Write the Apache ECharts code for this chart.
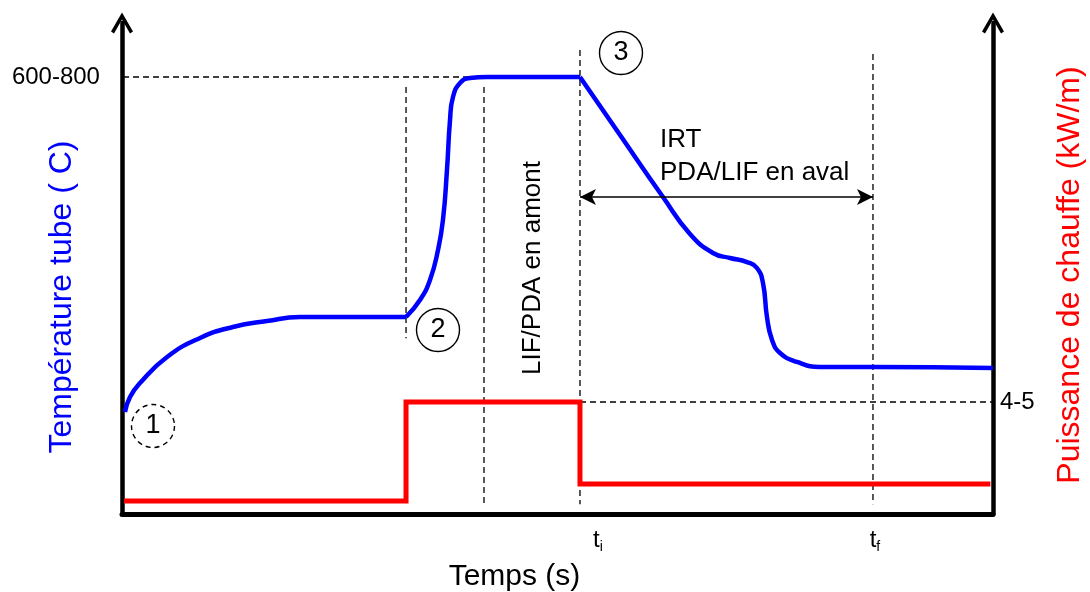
<!DOCTYPE html>
<html>
<head>
<meta charset="utf-8">
<script src="https://cdn.jsdelivr.net/npm/echarts@6/dist/echarts.min.js"></script>
<style>
html,body{margin:0;padding:0;background:#fff;}
#chart{width:1090px;height:592px;}
</style>
</head>
<body>
<div id="chart"></div>
<script>
// ---- data (time and values in relative units, 0..100) ----
const tempPhase1 = [[0.34,20.77],[0.92,23.83],[2.07,26.68],[5.17,31.98],[8.96,35.85],[12.74,38.09],[16.65,39.31],[20.44,40.12],[26.18,40.12],[32.61,40.12]];
const tempPhase2 = [[32.61,40.12],[34.21,43.58],[35.36,47.66],[36.28,53.77],[36.85,59.88],[37.31,70.06],[37.66,80.24],[38.00,84.93],[38.81,87.78],[39.95,88.80],[41.91,89.0],[52.58,89.0]];
const tempPhase3 = [[52.58,89.0],[57.18,77.19],[62.11,64.56],[65.21,57.03],[67.85,53.16],[69.80,52.14],[71.76,51.32],[72.90,50.10],[73.59,47.05],[74.05,40.12],[74.63,35.44],[75.55,32.79],[77.50,30.96],[80.14,29.94],[83.24,29.94],[86.22,29.94],[100,29.74]];
const powerSteps = [[0.23,2.65],[32.61,2.65],[32.61,22.81],[52.58,22.81],[52.58,6.11],[99.7,6.11]];

const guideSegments = [
  [[-1.03,89.0],[40.0,89.0]],
  [[32.61,86.97],[32.61,35.8]],
  [[41.56,86.97],[41.56,2.0]],
  [[52.58,94.5],[52.58,2.0]],
  [[86.22,93.7],[86.22,2.0]],
  [[52.58,22.81],[100,22.81]]
];
const tickLabels = [
  {text:'600-800', at:[-2.53,89.0], align:'right'},
  {text:'4-5', at:[100.8,22.81], align:'left'}
];
const timeMarks = [
  {name:'i', at:[54.65,-5.3]},
  {name:'f', at:[86.45,-5.3]}
];
const stepCircles = [
  {text:'1', at:[3.56,17.92], dashed:true},
  {text:'2', at:[36.28,37.47], dashed:false},
  {text:'3', at:[57.29,93.89], dashed:false}
];
const notes = [
  {text:'LIF/PDA en amont', at:[47.19,50.10], rotate:90, align:'center'},
  {text:'IRT', at:[61.77,76.17], rotate:0, align:'left'},
  {text:'PDA/LIF en aval', at:[61.77,69.45], rotate:0, align:'left'}
];
const measureSpan = [[52.58,64.56],[86.22,64.56]];

const FONT = 'Liberation Sans, Arial, sans-serif';
const chevron = 'path://M11,0 L22,19 L19,21 L11,7 L3,21 L0,19 Z';

const series = [];
guideSegments.forEach(seg => {
  series.push({type:'line', data:seg, clip:false, symbol:'none', silent:true,
    lineStyle:{color:'#000', width:1.3, type:[6,4]}, z:2});
});
series.push({type:'line', data:powerSteps, yAxisIndex:1, symbol:'none', clip:false,
  lineStyle:{color:'#ff0000', width:5, cap:'butt', join:'miter'}, z:3});
[tempPhase1, tempPhase2, tempPhase3].forEach(d => {
  series.push({type:'line', data:d, symbol:'none', smooth:0.5, clip:false,
    lineStyle:{color:'#0000ff', width:4.5}, z:4});
});
// measurement arrow
series.push({type:'line', data:[], markLine:{silent:true, symbol:['arrow','arrow'], symbolSize:[12,16],
  label:{show:false}, lineStyle:{color:'#000', width:1.5, type:'solid'},
  data:[[{coord:measureSpan[0]},{coord:measureSpan[1]}]]}});
// circles
series.push({type:'scatter', clip:false, z:5,
  data: stepCircles.map(c => ({value:c.at,
    itemStyle:{color:'rgba(255,255,255,0)', opacity:1, borderColor:'#000', borderWidth:1.4, borderType: c.dashed ? [5,4] : 'solid'},
    label:{show:true, formatter:c.text}})),
  symbol:'circle', symbolSize:43, itemStyle:{opacity:1},
  label:{position:'inside', fontSize:27, fontFamily:FONT, color:'#000'}});
// notes and tick labels
series.push({type:'scatter', clip:false, z:6, symbolSize:1, itemStyle:{color:'rgba(0,0,0,0)', opacity:1},
  data: notes.map(n => ({value:n.at, label:{show:true, formatter:n.text, rotate:n.rotate, align:n.align,
      verticalAlign:'middle', position:'inside', fontSize:26, fontFamily:FONT, color:'#000'}}))
    .concat(tickLabels.map(t => ({value:t.at, label:{show:true, formatter:t.text, align:t.align,
      verticalAlign:'middle', position:'inside', fontSize:24, fontFamily:FONT, color:'#000'}})))
    .concat(timeMarks.map(t => ({value:t.at, label:{show:true, formatter:'t{s|' + t.name + '}', align:'center',
      verticalAlign:'middle', position:'inside', fontSize:24, fontFamily:FONT, color:'#000',
      rich:{s:{fontSize:14, fontFamily:FONT, color:'#000', padding:[14,0,0,0]}}}})))
});

const chart = echarts.init(document.getElementById('chart'), null, {renderer:'canvas'});
chart.setOption({
  backgroundColor:'#fff',
  animation:false,
  grid:{left:122, right:97, top:23, bottom:78, outerBoundsMode:'none', containLabel:false},
  xAxis:{type:'value', min:0, max:100,
    axisLine:{show:true, lineStyle:{color:'#000', width:5}},
    axisTick:{show:false}, axisLabel:{show:false}, splitLine:{show:false},
    name:'Temps (s)', nameLocation:'middle', nameGap:48,
    nameTextStyle:{fontSize:30, fontFamily:FONT, color:'#000', padding:[0,86,0,0]}},
  yAxis:[
    {type:'value', min:0, max:100, position:'left',
      axisLine:{show:true, symbol:['none', chevron], symbolSize:[22,21], lineStyle:{color:'#000', width:4.5}},
      axisTick:{show:false}, axisLabel:{show:false}, splitLine:{show:false},
      name:'Température tube ( C)', nameLocation:'middle', nameGap:44,
      nameTextStyle:{fontSize:32, fontFamily:FONT, color:'#0000ff', padding:[0,57,0,0]}},
    {type:'value', min:0, max:100, position:'right',
      axisLine:{show:true, symbol:['none', chevron], symbolSize:[22,21], lineStyle:{color:'#000', width:4.5}},
      axisTick:{show:false}, axisLabel:{show:false}, splitLine:{show:false},
      name:'Puissance de chauffe (kW/m)', nameLocation:'middle', nameGap:61, nameRotate:90,
      nameTextStyle:{fontSize:32, fontFamily:FONT, color:'#ff0000', padding:[0,13,0,0]}}
  ],
  series: series
});
</script>
</body>
</html>
